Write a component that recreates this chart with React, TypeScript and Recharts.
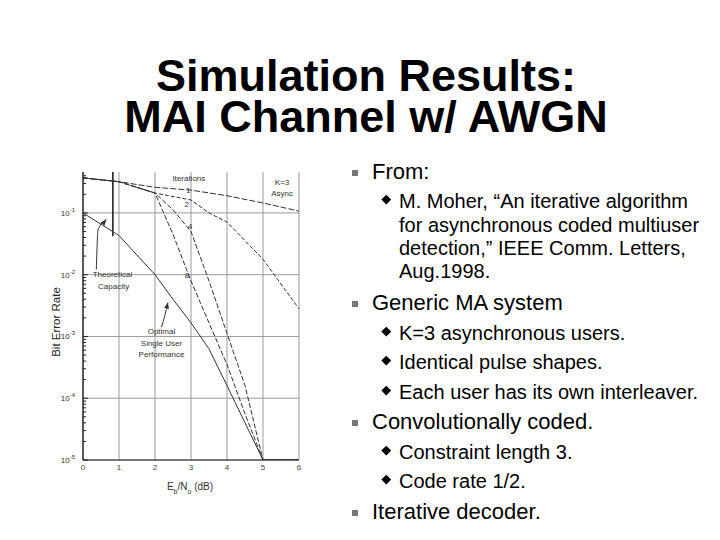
import {
  LineChart,
  Line,
  XAxis,
  YAxis,
  CartesianGrid,
  ReferenceLine,
  ReferenceDot,
} from 'recharts'

// Eb/No (dB) sample points
const ebNoCoarse = [0, 1, 2, 3, 4, 5, 6]
const ebNoIter2 = [0, 1, 2, 3, 3.5, 4, 5, 6]
const ebNoFine = [0, 1, 2, 2.5, 3, 3.5, 4, 4.5, 5, 6]

// bit error rate for each number of decoder iterations
const berIter1 = [0.37, 0.32, 0.26, 0.234, 0.19, 0.145, 0.107]
const berIter2 = [0.37, 0.32, 0.21, 0.162, 0.1, 0.071, 0.0178, 0.0028]
const berIter4 = [0.37, 0.32, 0.21, 0.112, 0.05, 0.0079, 0.00112, 0.00016, 0.00001, 0.00001]
const berIter8 = [0.37, 0.32, 0.21, 0.045, 0.0079, 0.00166, 0.00035, 0.000056, 0.00001, 0.00001]
const berSingleUser = [0.1, 0.043, 0.01, 0.004, 0.00166, 0.00063, 0.00016, 0.00004, 0.00001, 0.00001]

const xTicks = [0, 1, 2, 3, 4, 5, 6]
const decadeTicks = [1e-5, 1e-4, 1e-3, 1e-2, 1e-1]
const minorSteps = [1, 2, 3, 4, 5, 6, 7, 8, 9]
const yTop = 0.46

// theoretical capacity marker
const capacityEbNo = 0.83
const capacityBer = [yTop, 0.042]

// annotation arrows (dB, BER)
const capacityArrowX = [0.37, 0.42, 0.65]
const capacityArrowY = [0.0122, 0.0537, 0.078]
const optimalArrowX = [2.18, 2.27, 2.36]
const optimalArrowY = [0.00141, 0.00215, 0.00355]

// text notes inside the plot
const noteText = ['Iterations', '1', '2', '4', '8', 'K=3', 'Async', 'Theoretical', 'Capacity', 'Optimal', 'Single User', 'Performance']
const noteX = [2.94, 2.92, 2.88, 2.98, 2.89, 5.53, 5.53, 0.82, 0.85, 2.18, 2.18, 2.18]
const noteY = [0.367, 0.238, 0.139, 0.0612, 0.01, 0.31, 0.212, 0.0101, 0.0066, 0.00123, 0.00079, 0.00051]

const toPoints = (xs: number[], ys: number[]) => xs.map((x, i) => ({ x, ber: ys[i] }))

const yTicks = decadeTicks
  .flatMap((d) => minorSteps.map((m) => +(d * m).toPrecision(3)))
  .filter((v) => v <= yTop)

function YTick(props: any) {
  const { x, y, payload } = props
  const v = payload.value
  const exp = Math.round(Math.log10(v))
  const isDecade = Math.abs(Math.log10(v) - exp) < 1e-6
  return (
    <g>
      <line x1={x + 8} x2={x + (isDecade ? 13 : 11)} y1={y} y2={y} stroke="#222" strokeWidth={1} />
      {isDecade && (
        <text x={x} y={y + 3} textAnchor="end" fontSize={8} fill="#333">
          10
          <tspan dy={-4} fontSize={6}>
            {exp}
          </tspan>
        </text>
      )}
    </g>
  )
}

const arrowHead = (angle: number) => (props: any) => (
  <polygon
    points="0,0 -6,-2.5 -6,2.5"
    transform={`translate(${props.cx},${props.cy}) rotate(${angle})`}
    fill="#333"
  />
)

function Bullet({ top, children }: { top: number; children: any }) {
  return (
    <>
      <div style={{ position: 'absolute', left: 352, top: top + 8.6, width: 6, height: 6, background: '#777' }} />
      <div style={{ position: 'absolute', left: 372, top, fontSize: 22, lineHeight: '22px', whiteSpace: 'nowrap' }}>
        {children}
      </div>
    </>
  )
}

function SubBullet({ top, children }: { top: number; children: any }) {
  return (
    <>
      <div
        style={{
          position: 'absolute',
          left: 382.75,
          top: top + 5.15,
          width: 6.5,
          height: 6.5,
          background: '#000',
          transform: 'rotate(45deg)',
        }}
      />
      <div style={{ position: 'absolute', left: 399, top, fontSize: 20, lineHeight: '23.3px', whiteSpace: 'nowrap' }}>
        {children}
      </div>
    </>
  )
}

function TitleLine({ top, children }: { top: number; children: any }) {
  return (
    <div
      style={{
        position: 'absolute',
        left: 16,
        top,
        width: 700,
        height: 40,
        textAlign: 'center',
        fontSize: 45,
        fontWeight: 'bold',
        lineHeight: '40px',
      }}
    >
      {children}
    </div>
  )
}

export default function App() {
  const lineStyle = { stroke: '#333', strokeWidth: 1, dot: false, type: 'linear' as const, isAnimationActive: false }
  return (
    <div
      style={{
        position: 'absolute',
        left: 0,
        top: 0,
        width: 720,
        height: 540,
        background: '#fff',
        color: '#000',
        overflow: 'hidden',
        fontFamily: '"Liberation Sans", Arial, sans-serif',
      }}
    >
      <TitleLine top={56.4}>Simulation Results:</TitleLine>
      <TitleLine top={97.4}>MAI Channel w/ AWGN</TitleLine>

      <div style={{ position: 'absolute', left: 0, top: 150 }}>
        <LineChart width={320} height={360} margin={{ top: 22, right: 21, bottom: 30, left: 53 }}>
          <CartesianGrid stroke="#9a9a9a" horizontalValues={decadeTicks} verticalValues={xTicks.slice(1)} />
          <XAxis
            dataKey="x"
            type="number"
            domain={[0, 6]}
            ticks={xTicks}
            height={20}
            tickSize={0}
            tickMargin={4}
            tick={{ fontSize: 8, fill: '#444' }}
            axisLine={{ stroke: '#222', strokeWidth: 1.2 }}
            allowDuplicatedCategory={false}
          />
          <YAxis
            dataKey="ber"
            type="number"
            scale="log"
            domain={[1e-5, yTop]}
            allowDataOverflow
            ticks={yTicks}
            interval={0}
            width={30}
            tickSize={0}
            tickMargin={8}
            tick={<YTick />}
            axisLine={{ stroke: '#222', strokeWidth: 1.5 }}
          />
          <ReferenceLine
            segment={[
              { x: capacityEbNo, y: capacityBer[0] },
              { x: capacityEbNo, y: capacityBer[1] },
            ]}
            stroke="#222"
            strokeWidth={1.6}
          />
          <Line data={toPoints(ebNoCoarse, berIter1)} dataKey="ber" {...lineStyle} strokeDasharray="6 2" />
          <Line data={toPoints(ebNoIter2, berIter2)} dataKey="ber" {...lineStyle} strokeDasharray="4 2" />
          <Line data={toPoints(ebNoFine, berIter4)} dataKey="ber" {...lineStyle} strokeDasharray="5 2" />
          <Line data={toPoints(ebNoFine, berIter8)} dataKey="ber" {...lineStyle} strokeDasharray="5 2" />
          <Line data={toPoints(ebNoFine, berSingleUser)} dataKey="ber" {...lineStyle} />
          <Line data={toPoints(capacityArrowX, capacityArrowY)} dataKey="ber" {...lineStyle} type="monotone" />
          <Line data={toPoints(optimalArrowX, optimalArrowY)} dataKey="ber" {...lineStyle} type="monotone" />
          <ReferenceDot x={capacityArrowX[2]} y={capacityArrowY[2]} r={3} shape={arrowHead(-50)} />
          <ReferenceDot x={optimalArrowX[2]} y={optimalArrowY[2]} r={3} shape={arrowHead(-76)} />
          {noteText.map((t, i) => (
            <ReferenceDot
              key={t}
              x={noteX[i]}
              y={noteY[i]}
              r={0}
              fill="none"
              stroke="none"
              label={{ value: t, position: 'center', fontSize: 8, fill: '#333' }}
            />
          ))}
        </LineChart>
      </div>

      <div
        style={{
          position: 'absolute',
          left: 6,
          top: 315,
          width: 100,
          height: 14,
          lineHeight: '14px',
          textAlign: 'center',
          fontSize: 11.5,
          color: '#222',
          transform: 'rotate(-90deg)',
        }}
      >
        Bit Error Rate
      </div>
      <div
        style={{
          position: 'absolute',
          left: 140,
          top: 482,
          width: 100,
          textAlign: 'center',
          fontSize: 10,
          lineHeight: '10px',
          color: '#333',
        }}
      >
        E<span style={{ fontSize: 7, position: 'relative', top: 4 }}>b</span>/N
        <span style={{ fontSize: 7, position: 'relative', top: 4 }}>o</span> (dB)
      </div>

      <Bullet top={161.4}>From:</Bullet>
      <SubBullet top={190.4}>
        M. Moher, “An iterative algorithm
        <br />
        for asynchronous coded multiuser
        <br />
        detection,” IEEE Comm. Letters,
        <br />
        Aug.1998.
      </SubBullet>
      <Bullet top={292.4}>Generic MA system</Bullet>
      <SubBullet top={322.4}>K=3 asynchronous users.</SubBullet>
      <SubBullet top={351.4}>Identical pulse shapes.</SubBullet>
      <SubBullet top={381.4}>Each user has its own interleaver.</SubBullet>
      <Bullet top={411.4}>Convolutionally coded.</Bullet>
      <SubBullet top={441.4}>Constraint length 3.</SubBullet>
      <SubBullet top={470.4}>Code rate 1/2.</SubBullet>
      <Bullet top={501.4}>Iterative decoder.</Bullet>
    </div>
  )
}
